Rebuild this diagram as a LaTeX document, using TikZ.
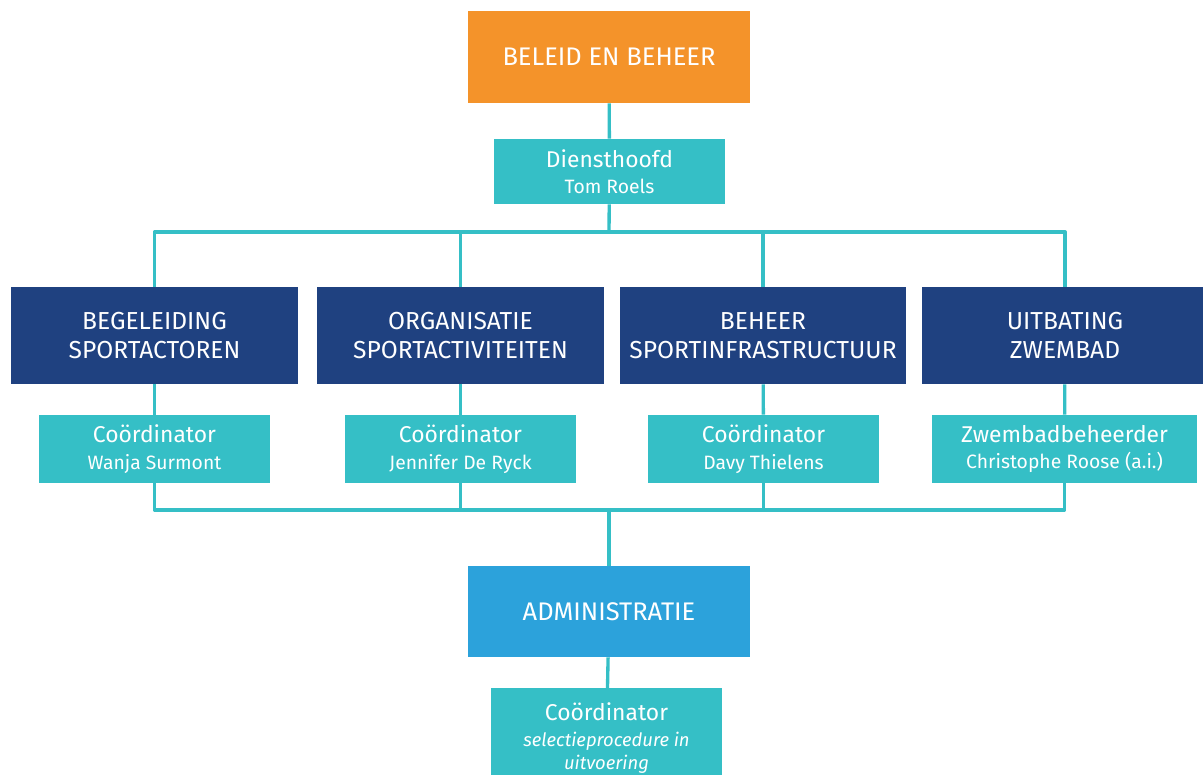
\documentclass[tikz,border=0pt]{standalone}
\usepackage{fontspec}
\setmainfont{Fira Sans}
\usetikzlibrary{positioning}
\definecolor{beleidorange}{HTML}{F4932A}
\definecolor{staffteal}{HTML}{35BFC6}
\definecolor{deptblue}{HTML}{1F4180}
\definecolor{adminblue}{HTML}{2CA2DB}
\tikzset{
  orgbox/.style={draw=none, text=white, align=center, inner sep=0pt},
  topbox/.style={orgbox, fill=beleidorange, minimum width=5.64cm, minimum height=1.84cm,
    font=\fontsize{14.5}{17}\selectfont},
  deptbox/.style={orgbox, fill=deptblue, minimum width=5.74cm, minimum height=1.94cm,
    font=\fontsize{14}{16.5}\selectfont},
  adminbox/.style={orgbox, fill=adminblue, minimum width=5.64cm, minimum height=1.82cm,
    font=\fontsize{14.5}{17}\selectfont},
  staffbox/.style={orgbox, fill=staffteal, minimum width=4.62cm, minimum height=1.36cm,
    font=\fontsize{13}{16}\selectfont},
  wire/.style={draw=staffteal, line width=1.9pt, line join=round},
}
\newcommand{\who}[1]{\\[-1pt]{\fontsize{11}{13}\selectfont #1}}
\newcommand{\pending}[1]{{\fontsize{10.5}{12}\selectfont\itshape #1}}
\begin{document}
\begin{tikzpicture}[x=0.02cm, y=-0.02cm]
  \useasboundingbox (0,0) rectangle (1203,774);

  % TOP
  \node[topbox] (beleid) at (609,57) {BELEID EN BEHEER};
  \node[staffbox, minimum height=1.3cm] (dh) at (609.5,171.5) {Diensthoofd\who{Tom Roels}};

  % DEPARTMENTS
  \node[deptbox] (dept-1) at (154.5,335.5) {BEGELEIDING\\SPORTACTOREN};
  \node[deptbox] (dept-2) at (460.5,335.5) {ORGANISATIE\\SPORTACTIVITEITEN};
  \node[deptbox] (dept-3) at (763,335.5) {BEHEER\\SPORTINFRASTRUCTUUR};
  \node[deptbox] (dept-4) at (1065,335.5) {UITBATING\\ZWEMBAD};

  % COORDINATORS
  \node[staffbox] (coord-1) at (154.5,449) {Coördinator\who{Wanja Surmont}};
  \node[staffbox] (coord-2) at (460.5,449) {Coördinator\who{Jennifer De Ryck}};
  \node[staffbox] (coord-3) at (763.5,449) {Coördinator\who{Davy Thielens}};
  \node[staffbox, minimum width=5.3cm] (coord-4) at (1064.5,449) {Zwembadbeheerder\who{Christophe Roose (a.i.)}};

  % ADMINISTRATION
  \node[adminbox] (admin) at (609,611.5) {ADMINISTRATIE};
  \node[staffbox, anchor=north, minimum height=0pt, inner ysep=0.28cm] (coord-5) at (606.5,688)
    {Coördinator\\[-1pt]\pending{selectieprocedure in}\\[-3pt]\pending{uitvoering}};

  % WIRING
  \coordinate (highjoin) at (609,232);
  \coordinate (lowjoin) at (609,510);
  \draw[wire] (beleid) -- (dh);
  \draw[wire] (dh) -- (highjoin);
  \draw[wire] (admin) -- (coord-5);
  \draw[wire] (lowjoin) -- (admin);
  \foreach \i in {1,...,4}{
    \draw[wire] (highjoin) -| (dept-\i.north);
    \draw[wire] (dept-\i) -- (coord-\i);
    \draw[wire] (coord-\i.south) |- (lowjoin);
  }
\end{tikzpicture}
\end{document}
